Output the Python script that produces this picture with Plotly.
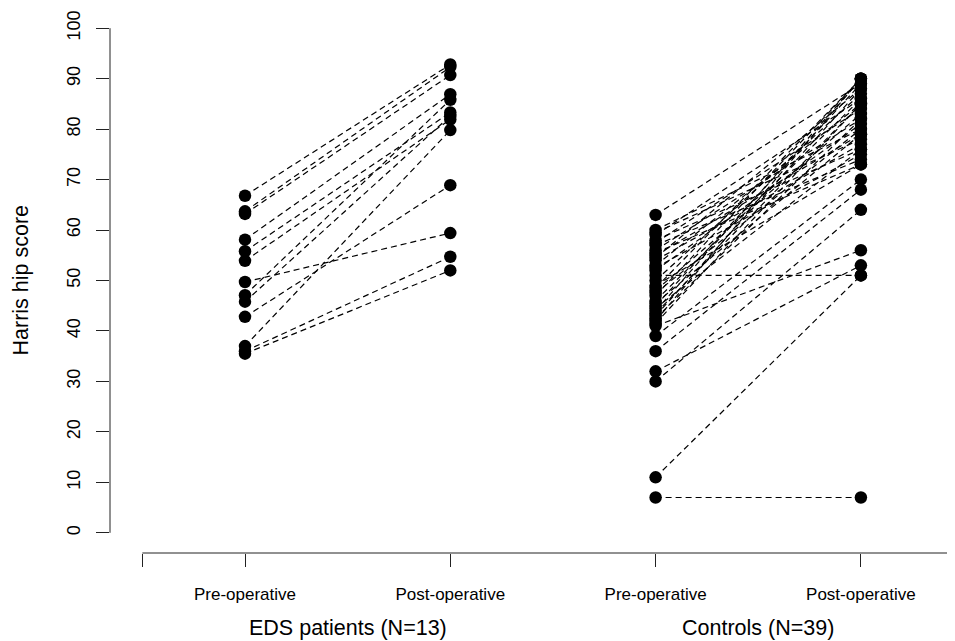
import plotly.graph_objects as go

# ---- data ----
eds_pre = [66.8, 63.7, 63.2, 58.1, 55.8, 53.9, 49.7, 47.1, 45.8, 42.8, 37.0, 36.0, 35.5]
eds_post = [92.8, 92.3, 90.7, 86.9, 83.3, 81.9, 59.4, 85.8, 82.6, 68.9, 79.8, 54.7, 52.0]

ctrl_pre = [63, 60, 59.5, 59, 58, 57.5, 57, 56, 55.5, 55, 54.5, 54, 53, 52.5, 52, 51,
            50, 49, 48.5, 48, 47.5, 47, 46, 45.5, 45, 44.5, 44, 43.5, 43, 42.5, 42,
            41.5, 41, 39, 36, 32, 30, 11, 7]
ctrl_post = [89, 80, 78, 86, 76, 84, 74, 82, 73, 79, 88, 77, 85, 75, 81, 51,
             87, 73, 90, 83, 80, 90, 86, 79, 89, 76, 90, 85, 88, 82, 90,
             85, 56, 70, 68, 53, 64, 51, 7]

x_positions = [1, 2, 3, 4]  # EDS pre, EDS post, Controls pre, Controls post
x_tick_vals = [0.5, 1, 2, 3, 4]
x_tick_text = ["", "Pre-operative", "Post-operative", "Pre-operative", "Post-operative"]
group_labels = ["EDS patients (N=13)", "Controls (N=39)"]
group_centers = [1.5, 3.5]
y_tick_vals = list(range(0, 101, 10))
y_title = "Harris hip score"

FONT = "Liberation Sans, Arial, Helvetica, sans-serif"
INK = "#000000"

fig = go.Figure()


def add_group(pre, post, xa, xb):
    lx, ly = [], []
    for a, b in zip(pre, post):
        lx += [xa, xb, None]
        ly += [a, b, None]
    fig.add_trace(go.Scatter(x=lx, y=ly, mode="lines",
                             line=dict(color=INK, width=1.2, dash="6px,4px"),
                             hoverinfo="skip", showlegend=False))
    fig.add_trace(go.Scatter(x=[xa] * len(pre) + [xb] * len(post), y=pre + post,
                             mode="markers",
                             marker=dict(color=INK, size=12.5, line=dict(width=0)),
                             showlegend=False, cliponaxis=False))


add_group(eds_pre, eds_post, x_positions[0], x_positions[1])
add_group(ctrl_pre, ctrl_post, x_positions[2], x_positions[3])

# page body has an 8px default margin -> figure is 8px smaller and shifted
OFF = 8
W, H = 955 - OFF, 641 - OFF
L, R, T = 110 - OFF, 0, 0
plot_bottom = 553 - OFF
B = H - plot_bottom
plot_w = W - L - R
plot_h = H - T - B

fig.update_layout(
    width=W, height=H,
    margin=dict(l=L, r=R, t=T, b=B, autoexpand=False),
    paper_bgcolor="white", plot_bgcolor="white",
    font=dict(family=FONT, color=INK),
    showlegend=False,
    xaxis=dict(range=[0.3424, 4.4584], tickvals=x_tick_vals, ticktext=x_tick_text,
               ticks="outside", ticklen=13, tickwidth=1, tickcolor="#222",
               showgrid=False, zeroline=False, showline=False, automargin=False,
               tickfont=dict(size=17, family=FONT, color=INK), ticklabelstandoff=13),
    yaxis=dict(range=[-4, 104], tickvals=y_tick_vals, tickangle=-90,
               ticks="outside", ticklen=13, tickwidth=1, tickcolor="#222",
               showgrid=False, zeroline=False, showline=False, automargin=False,
               tickfont=dict(size=18, family=FONT, color=INK), ticklabelstandoff=9),
)

# axis lines spanning only the tick range (R style)
fig.add_shape(type="line", xref="paper", yref="y", x0=0, x1=0, y0=0, y1=100,
              line=dict(color="#222", width=1))
fig.add_shape(type="line", xref="x", yref="paper", x0=0.5, x1=5, y0=0, y1=0,
              line=dict(color="#222", width=1))

# y-axis title
fig.add_annotation(text=y_title, textangle=-90, xref="paper", yref="y",
                   x=(20 - OFF - L) / plot_w, y=50, showarrow=False,
                   xanchor="center", yanchor="middle",
                   font=dict(size=21.5, family=FONT, color=INK))

# group labels
for lab, cx in zip(group_labels, group_centers):
    fig.add_annotation(text=lab, xref="x", yref="paper", x=cx,
                       y=-((628 - OFF) - plot_bottom) / plot_h, showarrow=False,
                       xanchor="center", yanchor="middle",
                       font=dict(size=21.5, family=FONT, color=INK))

fig.write_html("out.html")
